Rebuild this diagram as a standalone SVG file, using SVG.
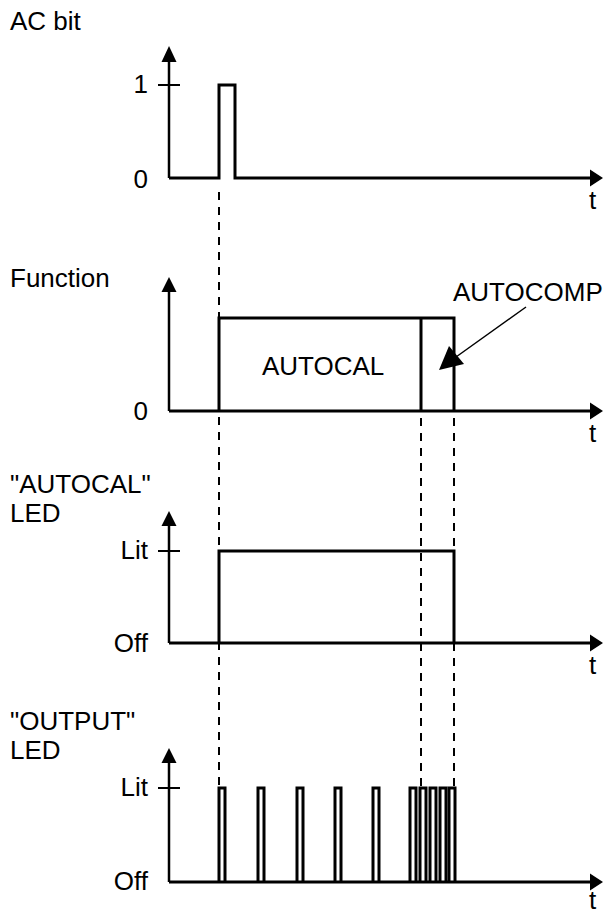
<svg xmlns="http://www.w3.org/2000/svg" width="608" height="914" viewBox="0 0 608 914">
<style>
.lbl{font-family:"Liberation Sans",Arial,sans-serif;font-size:26px;fill:#000}
.r{text-anchor:end}
.sig{fill:none;stroke:#000;stroke-width:3;stroke-linejoin:miter}
.ax{fill:none;stroke:#000;stroke-width:2.5}
.tick{stroke:#000;stroke-width:2}
.dash{stroke:#000;stroke-width:2;stroke-dasharray:8 7}
.ah{fill:#000}
</style>
<rect width="608" height="914" fill="#fff"/>
<g id="connectors">
<line class="dash" x1="219" y1="192" x2="219" y2="786"/>
<line class="dash" x1="421" y1="418" x2="421" y2="786"/>
<line class="dash" x1="454" y1="418" x2="454" y2="786"/>
<line x1="526" y1="307" x2="456" y2="357" stroke="#000" stroke-width="1.5"/>
<polygon class="ah" points="439,370 449,346 464,364"/>
</g>
<g id="panel-acbit">
<text class="lbl" x="10" y="30">AC bit</text>
<text class="lbl r" x="148" y="93">1</text>
<text class="lbl r" x="148" y="188">0</text>
<text class="lbl" x="589" y="209">t</text>
<line class="ax" x1="169" y1="178" x2="169" y2="60"/>
<polygon class="ah" points="169,46 161.5,62 176.5,62"/>
<line class="tick" x1="158" y1="85" x2="180" y2="85"/>
<polyline class="sig" points="169,178 219,178 219,85 235,85 235,178 592,178"/>
<polygon class="ah" points="590,169.5 603,178 590,186.5"/>
</g>
<g id="panel-function">
<text class="lbl" x="10" y="287">Function</text>
<text class="lbl r" x="148" y="420">0</text>
<text class="lbl" x="589" y="442">t</text>
<text class="lbl" x="262" y="375">AUTOCAL</text>
<text class="lbl" x="453" y="301">AUTOCOMP</text>
<line class="ax" x1="169" y1="411" x2="169" y2="290"/>
<polygon class="ah" points="169,277 161.5,292 176.5,292"/>
<polyline class="sig" points="169,411 592,411"/>
<polyline class="sig" points="219,411 219,318 454,318 454,411"/>
<line class="sig" x1="421" y1="318" x2="421" y2="411"/>
<polygon class="ah" points="590,402.5 603,411 590,419.5"/>
</g>
<g id="panel-autocal-led">
<text class="lbl" x="10" y="493">"AUTOCAL"</text>
<text class="lbl" x="10" y="522">LED</text>
<text class="lbl r" x="148" y="559">Lit</text>
<text class="lbl r" x="148" y="652">Off</text>
<text class="lbl" x="589" y="674">t</text>
<line class="ax" x1="169" y1="643" x2="169" y2="523"/>
<polygon class="ah" points="169,511 161.5,526 176.5,526"/>
<line class="tick" x1="158" y1="551" x2="180" y2="551"/>
<polyline class="sig" points="169,643 592,643"/>
<polyline class="sig" points="219,643 219,551 454,551 454,643"/>
<polygon class="ah" points="590,634.5 603,643 590,651.5"/>
</g>
<g id="panel-output-led">
<text class="lbl" x="10" y="730">"OUTPUT"</text>
<text class="lbl" x="10" y="759">LED</text>
<text class="lbl r" x="148" y="796">Lit</text>
<text class="lbl r" x="148" y="890">Off</text>
<text class="lbl" x="589" y="909">t</text>
<line class="ax" x1="169" y1="882" x2="169" y2="760"/>
<polygon class="ah" points="169,748 161.5,763 176.5,763"/>
<line class="tick" x1="158" y1="788" x2="180" y2="788"/>
<polyline class="sig" points="169,882 592,882"/>
<polyline class="sig" points="219,882 219,788 225,788 225,882"/>
<polyline class="sig" points="258,882 258,788 264,788 264,882"/>
<polyline class="sig" points="297,882 297,788 303,788 303,882"/>
<polyline class="sig" points="335,882 335,788 341,788 341,882"/>
<polyline class="sig" points="373,882 373,788 379,788 379,882"/>
<polyline class="sig" points="410,882 410,788 416,788 416,882"/>
<polyline class="sig" points="420,882 420,788 426,788 426,882"/>
<polyline class="sig" points="430,882 430,788 436,788 436,882"/>
<polyline class="sig" points="440,882 440,788 446,788 446,882"/>
<polyline class="sig" points="449,882 449,788 455,788 455,882"/>
<polygon class="ah" points="590,873.5 603,882 590,890.5"/>
</g>
</svg>
